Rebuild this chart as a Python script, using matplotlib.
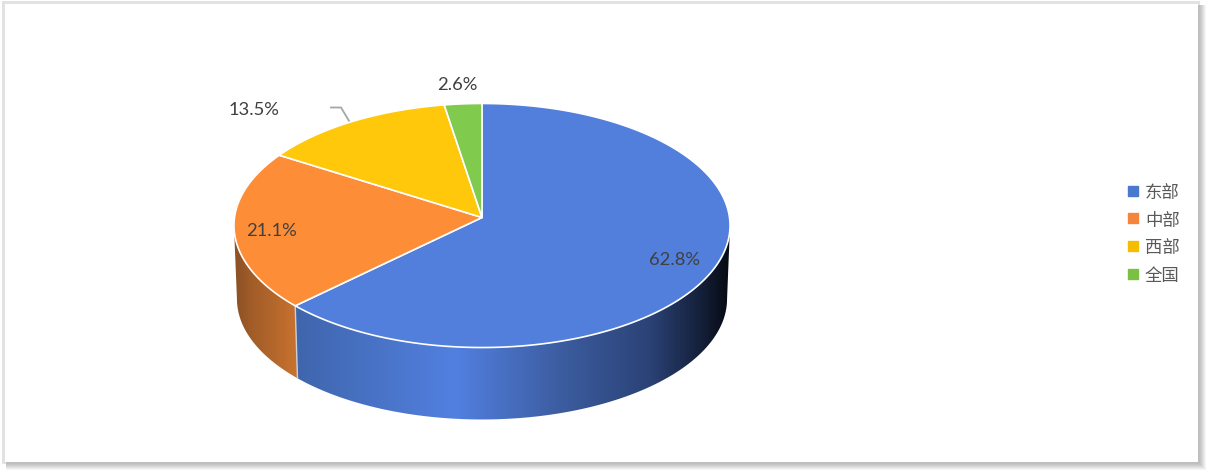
import numpy as np
import matplotlib
matplotlib.use('Agg')
import matplotlib.pyplot as plt
from matplotlib.colors import to_rgb
from matplotlib.lines import Line2D
from matplotlib.patches import Polygon, Rectangle

plt.rcParams['font.family'] = ['Lato', 'Noto Sans CJK SC', 'DejaVu Sans']

regions = ['东部', '中部', '西部', '全国']
shares = [62.8, 21.1, 13.5, 2.6]
top_colors = ['#527FDB', '#FE8D38', '#FFC80A', '#80CB4E']
legend_colors = ['#4A78CF', '#F4853A', '#F5BD00', '#7AC143']
label_pos = [(675, 260), (271, 231), (254, 110), (457, 85)]

# 透视圆盘的像素参数
CX, CY = 482, 218.5
A, B, K = 247.5, 121.5, 0.0656
DEPTH_Y, DEPTH_SCALE = 73.5, 0.988


def rim(theta, dy=0.0, scale=1.0):
    """theta 从正上方顺时针计，返回透视后的像素坐标"""
    u, v = np.sin(theta), np.cos(theta)
    w = 1 + K * v
    return np.column_stack((CX + scale * A * u / w, CY + dy - scale * B * v / w))


def gradient_side(ax, t0, t1, stops):
    """侧面：沿 x 方向渐变的带状面，用多边形裁剪"""
    t = np.linspace(t0, t1, 200)
    upper = rim(t)
    lower = rim(t, DEPTH_Y, DEPTH_SCALE)
    poly = Polygon(np.vstack((upper, lower[::-1])), closed=True, fc='none', ec='none')
    ax.add_patch(poly)
    x = np.arange(0, 1212)
    px = [s[0] for s in stops]
    rgb = np.array([to_rgb(s[1]) for s in stops])
    img = np.stack([np.interp(x, px, rgb[:, i]) for i in range(3)], axis=-1)[None, :, :]
    im = ax.imshow(img, extent=(0, 1212, 470, 200), aspect='auto', zorder=2, interpolation='bilinear')
    im.set_clip_path(poly)


fig = plt.figure(figsize=(12.12, 4.77), dpi=100)
ax = fig.add_axes([0, 0, 1, 1])
ax.axis('off')

# 外框与阴影
ax.add_patch(Rectangle((2, 2), 1198, 463, fc='#E2E2E2', ec='none', zorder=0))
shadow = ['#F6F6F6', '#ECECEC', '#E2E2E2', '#D8D8D8', '#CECECE', '#C6C6C6', '#C0C0C0', '#BEBEBE']
for i, c in enumerate(shadow):
    off = 8 - i
    ax.add_patch(Rectangle((6, 6), 1192 + off, 457 + off, fc=c, ec='none', zorder=0.1 + i * 0.01))
ax.add_patch(Rectangle((5, 5), 1193, 458, fc='white', ec='none', zorder=0.5))

# 角度边界
edges = np.radians(np.cumsum([0] + shares) * 3.6)
side_l, side_r = np.arccos(-K), 2 * np.pi - np.arccos(-K)

blue_stops = [(298, '#3F66AD'), (455, '#5280E0'), (560, '#3C5DA0'), (650, '#2B4276'),
              (700, '#14203A'), (727, '#070B14')]
orange_stops = [(237, '#8E5226'), (250, '#A05C28'), (297, '#C9722F')]
gradient_side(ax, side_l, edges[1], blue_stops)
gradient_side(ax, edges[1], side_r, orange_stops)

# 两段侧面之间的接缝
seam = np.vstack((rim(edges[1:2]), rim(edges[1:2], DEPTH_Y, DEPTH_SCALE)))
ax.plot(seam[:, 0], seam[:, 1], color='#C9CFD9', lw=1.0, zorder=3)

# 顶面
for i, c in enumerate(top_colors):
    t = np.linspace(edges[i], edges[i + 1], 200)
    pts = np.vstack(([CX, CY], rim(t)))
    ax.add_patch(Polygon(pts, closed=True, fc=c, ec='white', lw=1.2, zorder=4, joinstyle='round'))

# 数据标签
for v, (lx, ly) in zip(shares, label_pos):
    ax.text(lx, ly, f'{v:.1f}%', fontsize=13.2, color='#404040', ha='center', va='center', zorder=6)

# 13.5% 的引导线
ax.plot([331, 341, 350], [108.5, 108.5, 123.5], color='#A6A6A6', lw=1.3, zorder=3.5)

handles = [Line2D([0], [0], ls='none', marker='s', ms=7, mfc=c, mec=c, label=r)
           for c, r in zip(legend_colors, regions)]
ax.legend(handles=handles, loc='center left', bbox_to_anchor=(1127 / 1212, 1 - 234.5 / 477),
          frameon=False, prop={'family': 'Noto Sans CJK SC', 'size': 12.5},
          labelcolor='#595959', labelspacing=0.57, handlelength=0.7, handletextpad=0.33,
          borderpad=0, borderaxespad=0)

ax.set_xlim(0, 1212)
ax.set_ylim(477, 0)
fig.savefig('out.png', dpi=100, facecolor='white')
